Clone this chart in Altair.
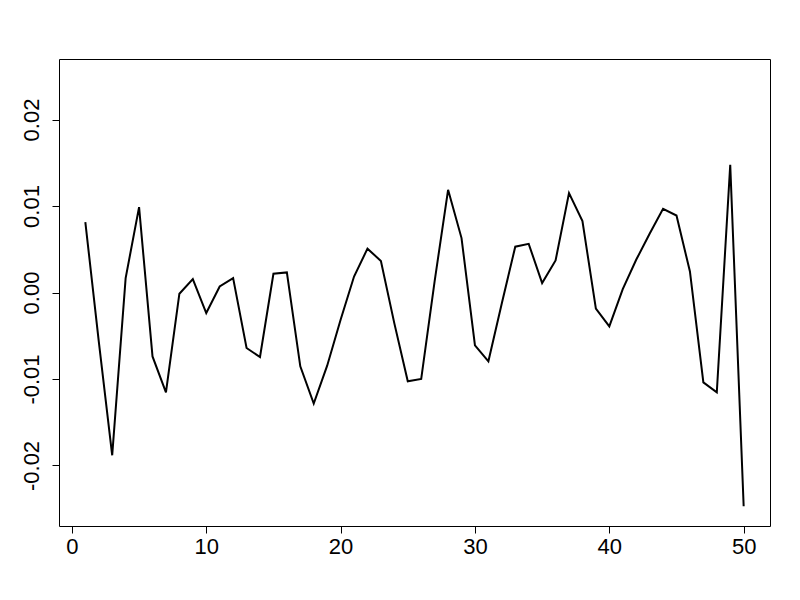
import altair as alt
import pandas as pd

x_vals = list(range(1, 51))
y_vals = [
    0.00814, -0.00564, -0.01882, 0.00167, 0.00987, -0.00739, -0.01155, -0.00014, 0.00155, -0.00237,
    0.00070, 0.00167, -0.00642, -0.00746, 0.00217, 0.00232, -0.00854, -0.01285, -0.00846, -0.00315,
    0.00185, 0.00507, 0.00365, -0.00357, -0.01027, -0.01000, 0.00132, 0.01187, 0.00629, -0.00611,
    -0.00796, -0.00124, 0.00530, 0.00563, 0.00109, 0.00370, 0.01149, 0.00825, -0.00186, -0.00392,
    0.00040, 0.00378, 0.00679, 0.00967, 0.00890, 0.00243, -0.01039, -0.01155, 0.01476, -0.02471,
]
x_ticks = [0, 10, 20, 30, 40, 50]
y_ticks = [-0.02, -0.01, 0.0, 0.01, 0.02]

df = pd.DataFrame({"index": x_vals, "value": y_vals})

font = "Liberation Sans"

chart = (
    alt.Chart(df)
    .mark_line(color="black", strokeWidth=2)
    .encode(
        x=alt.X(
            "index:Q",
            scale=alt.Scale(domain=[-0.96, 51.96], nice=False, zero=False),
            axis=alt.Axis(
                values=x_ticks,
                title=None,
                grid=False,
                domain=False,
                tickColor="black",
                tickSize=7,
                tickWidth=1,
                labelFontSize=22,
                labelFont=font,
                labelColor="black",
                labelPadding=3,
                labelFlush=False,
                format="d",
            ),
        ),
        y=alt.Y(
            "value:Q",
            scale=alt.Scale(domain=[-0.027, 0.027], nice=False, zero=False),
            axis=alt.Axis(
                values=y_ticks,
                title=None,
                grid=False,
                domain=False,
                tickColor="black",
                tickSize=7,
                tickWidth=1,
                labelFontSize=22,
                labelFont=font,
                labelColor="black",
                labelAngle=270,
                labelAlign="center",
                labelBaseline="bottom",
                labelPadding=9,
                labelFlush=False,
                labelExpr="datum.value < 0 ? '-' + format(-datum.value, '.2f') : format(datum.value, '.2f')",
            ),
        ),
    )
    .properties(
        width=711,
        height=467,
        autosize=alt.AutoSizeParams(type="none"),
        padding={"left": 51, "top": 51, "right": 22, "bottom": 66},
    )
    .configure(background="white", view=alt.ViewConfig(stroke="black", strokeWidth=1, strokeOpacity=1))
)

chart.save("out.html", embed_options={"renderer": "svg", "actions": False})
